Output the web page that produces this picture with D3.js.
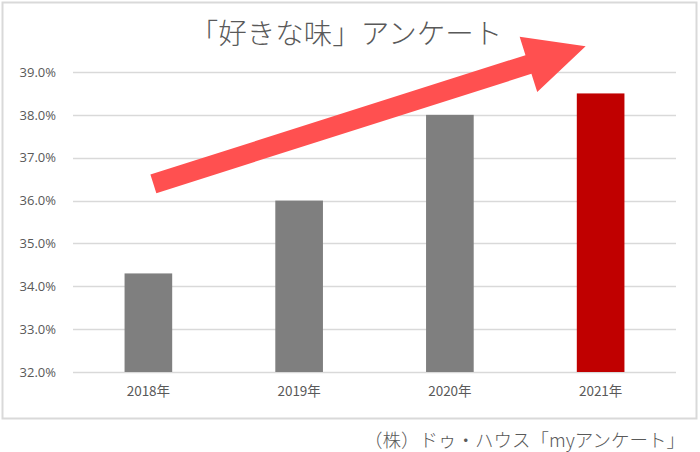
<!DOCTYPE html>
<html>
<head>
<meta charset="utf-8">
<script src="https://cdn.jsdelivr.net/npm/d3@7"></script>
<style>
  body { margin: 0; background: #fff; }
  text { font-family: "Noto Sans CJK JP", "Noto Sans", sans-serif; }
</style>
</head>
<body>
<div id="chart"></div>
<script>
// data
var years = ["2018年", "2019年", "2020年", "2021年"];
var values = [34.3, 36.0, 38.0, 38.5];
var barColors = ["#7f7f7f", "#7f7f7f", "#7f7f7f", "#c00000"];
var yTicks = [32, 33, 34, 35, 36, 37, 38, 39];
var titleText = "「好きな味」アンケート";
var sourceText = "（株）ドゥ・ハウス「myアンケート」";

var width = 700,
    height = 452;

var margin = {left: 73, right: 24, top: 72, bottom: 80};

var svg = d3.select("#chart").append("svg")
    .attr("width", width)
    .attr("height", height);

// chart frame
svg.append("rect")
    .attr("x", 2.5).attr("y", 2.5)
    .attr("width", 694).attr("height", 416)
    .attr("fill", "#fff")
    .attr("stroke", "#d9d9d9")
    .attr("stroke-width", 2);

var x = d3.scaleBand()
    .domain(years)
    .range([margin.left, width - margin.right])
    .paddingInner(0.684)
    .paddingOuter(0.342);

var y = d3.scaleLinear()
    .domain([32, 39])
    .range([372, 72]);

// gridlines
svg.append("g")
  .selectAll("line")
  .data(yTicks)
  .join("line")
    .attr("x1", margin.left)
    .attr("x2", width - margin.right)
    .attr("y1", d => Math.round(y(d)) + 0.5)
    .attr("y2", d => Math.round(y(d)) + 0.5)
    .attr("stroke", "#d9d9d9")
    .attr("stroke-width", 1.3);

// y axis labels
var yAxis = d3.axisLeft(y)
    .tickValues(yTicks)
    .tickFormat(d => d.toFixed(1) + "%")
    .tickSize(0)
    .tickPadding(0);

svg.append("g")
    .attr("transform", "translate(56,0)")
    .call(yAxis)
    .call(g => g.select(".domain").remove())
    .selectAll("text")
      .attr("fill", "#595959")
      .style("font-size", "13px")
      .style("font-family", "'Open Sans', 'Noto Sans', sans-serif");

// bars
svg.append("g")
  .selectAll("rect")
  .data(values)
  .join("rect")
    .attr("x", (d, i) => x(years[i]))
    .attr("y", d => y(d))
    .attr("width", x.bandwidth())
    .attr("height", d => y(32) - y(d))
    .attr("fill", (d, i) => barColors[i]);

// x axis labels
var xAxis = d3.axisBottom(x).tickSize(0).tickPadding(0);
svg.append("g")
    .attr("transform", "translate(0,386)")
    .call(xAxis)
    .call(g => g.select(".domain").remove())
    .selectAll("text")
      .attr("fill", "#595959")
      .style("font-size", "13.5px");

// title
svg.append("text")
    .attr("x", 346)
    .attr("y", 44)
    .attr("text-anchor", "middle")
    .attr("fill", "#595959")
    .style("font-size", "28.5px")
    .style("font-weight", 300)
    .text(titleText);

// trend arrow, anchored to the scales
var arrowFrom = {cat: years[0], value: 36.39, dx: 5},
    arrowTo = {cat: years[3], value: 39.6, dx: -15};

var tx = x(arrowFrom.cat) + x.bandwidth() / 2 + arrowFrom.dx,
    ty = y(arrowFrom.value),
    px = x(arrowTo.cat) + x.bandwidth() / 2 + arrowTo.dx,
    py = y(arrowTo.value);

var len = Math.hypot(px - tx, py - ty),
    ux = (px - tx) / len, uy = (py - ty) / len,
    nx = -uy, ny = ux;
var shaftW = 9.8, headW = 29, headL = 60;
var bx = px - ux * headL, by = py - uy * headL;

var pts = [
  [tx + nx * shaftW, ty + ny * shaftW],
  [bx + nx * shaftW, by + ny * shaftW],
  [bx + nx * headW, by + ny * headW],
  [px, py],
  [bx - nx * headW, by - ny * headW],
  [bx - nx * shaftW, by - ny * shaftW],
  [tx - nx * shaftW, ty - ny * shaftW]
];

svg.append("path")
    .attr("d", d3.line()(pts) + "Z")
    .attr("fill", "#ff5050");

// source
svg.append("text")
    .attr("x", 685)
    .attr("y", 447)
    .attr("text-anchor", "end")
    .attr("fill", "#595959")
    .style("font-size", "18.5px")
    .style("font-weight", 300)
    .text(sourceText);
</script>
</body>
</html>
